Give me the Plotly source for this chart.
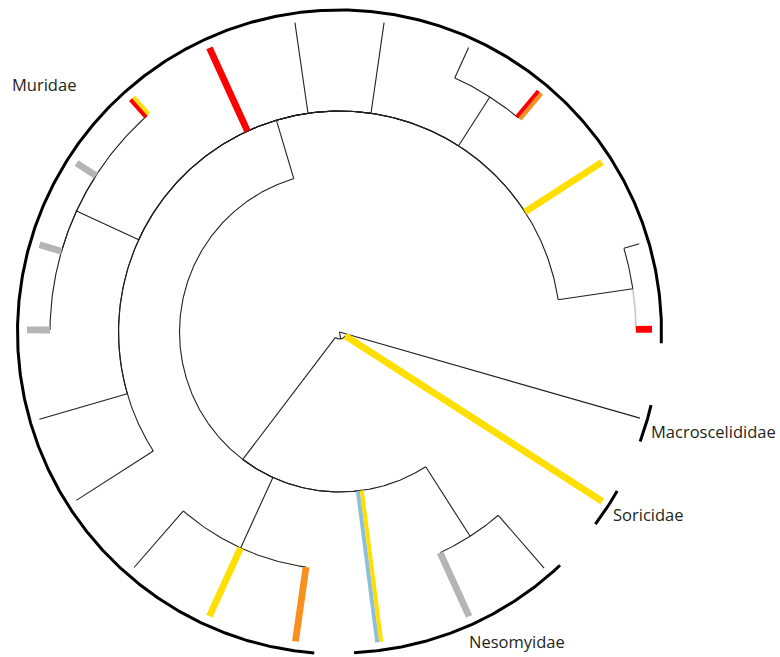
import numpy as np
import plotly.graph_objects as go

# ---------------- tree data ----------------
# internal nodes: depth = distance from the root, angle = where the stem joins (degrees)
node_name   = ["root", "afro", "rodentia", "muridae_a", "muridae_b",
               "muridae_c", "muridae_d", "muridae_e", "nesomyidae"]
node_parent = [None, "root", "afro", "rodentia", "muridae_a",
               "muridae_a", "muridae_a", "rodentia", "rodentia"]
node_depth  = [0.0, 7.0, 160.0, 221.0, 289.5, 279.0, 296.5, 237.5, 242.5]
node_angle  = [-16.0, 280.0, 232.8, 106.6, 155.3, 57.4, 8.4, 245.4, 302.6]

# terminal branches: parent node, angle, bar colours (ordered by increasing angle;
# an empty list is a plain thin branch), colour of the arc stretch leading to the tip
tip_parent = ["root", "afro",
              "muridae_a", "muridae_a", "muridae_a", "muridae_a", "muridae_a", "muridae_a",
              "muridae_b", "muridae_b", "muridae_b", "muridae_b",
              "muridae_c", "muridae_c",
              "muridae_d", "muridae_d",
              "muridae_e", "muridae_e", "muridae_e",
              "nesomyidae", "nesomyidae",
              "rodentia"]
tip_angle = [-16.0, 327.2,
             212.6, 196.2, 114.6, 98.2, 81.8, 32.9,
             179.6, 163.8, 147.3, 131.6,
             65.6, 50.1,
             16.4, 0.5,
             228.9, 245.4, 261.9,
             294.5, 310.9,
             277.3]
tip_colors = [[], ["yellow"],
              [], [], ["red"], [], [], ["yellow"],
              ["grey"], ["grey"], ["grey"], ["yellow", "red"],
              [], ["orange", "red"],
              [], ["red"],
              [], ["yellow"], ["orange"],
              ["grey"], [],
              ["blue", "yellow"]]
tip_arc_color = ["black"] * 15 + ["lightgrey"] + ["black"] * 6
tip_depth = 312.5

# clade brackets and their labels
clade_name   = ["Muridae", "Nesomyidae", "Macroscelididae", "Soricidae"]
clade_start  = [-2.0, 272.6, -20.0, -36.9]
clade_end    = [265.5, 313.4, -13.2, -29.8]
clade_radius = [322.0, 321.0, 320.0, 320.0]
label_radius = [411.6, 335.0, 324.95, 327.2]
label_angle  = [143.12, -67.58, -17.74, -34.0]

palette = {
    "black": "#231f20",
    "red": "#ff0000",
    "yellow": "#ffdf00",
    "orange": "#f7901e",
    "grey": "#b5b5b5",
    "lightgrey": "#c8c8c8",
    "blue": "#8cbfdc",
}

# ---------------- geometry helpers ----------------
def polar(r, deg):
    t = np.deg2rad(deg)
    return r * np.cos(t), r * np.sin(t)


def arc(r, a0, a1, step=0.4):
    n = max(2, int(abs(a1 - a0) / step) + 1)
    return polar(r, np.linspace(a0, a1, n))


def bar_polygon(r0, r1, deg, offset, width):
    t = np.deg2rad(deg)
    u = np.array([np.cos(t), np.sin(t)])
    p = np.array([-np.sin(t), np.cos(t)])
    lo, hi = offset - width / 2, offset + width / 2
    pts = [r0 * u + lo * p, r1 * u + lo * p, r1 * u + hi * p, r0 * u + hi * p, r0 * u + lo * p]
    return [q[0] for q in pts], [q[1] for q in pts]


fig = go.Figure()
thin = 1.1
depth_of = dict(zip(node_name, node_depth))
angle_of = dict(zip(node_name, node_angle))

# collect thin line segments (x, y with None separators) per colour
segments = {}


def add_seg(color, xs, ys):
    bx, by = segments.setdefault(color, ([], []))
    bx.extend(list(xs) + [None])
    by.extend(list(ys) + [None])


# stems of internal nodes
for name, parent in zip(node_name, node_parent):
    if parent is None:
        continue
    r0, r1, a = depth_of[parent], depth_of[name], angle_of[name]
    x0, y0 = polar(r0, a)
    x1, y1 = polar(r1, a)
    add_seg("black", [x0, x1], [y0, y1])

# arcs: from each node's stem angle round to every child's angle
for name, parent in zip(node_name, node_parent):
    if parent is None or depth_of[parent] <= 0:
        continue
    xs, ys = arc(depth_of[parent], angle_of[parent], angle_of[name])
    add_seg("black", xs, ys)

for parent, ang, acol in zip(tip_parent, tip_angle, tip_arc_color):
    if depth_of[parent] <= 0:
        continue
    xs, ys = arc(depth_of[parent], angle_of[parent], ang)
    add_seg(acol, xs, ys)

# terminal branches: plain ones as thin lines
for parent, ang, cols in zip(tip_parent, tip_angle, tip_colors):
    if cols:
        continue
    x0, y0 = polar(depth_of[parent], ang)
    x1, y1 = polar(tip_depth, ang)
    add_seg("black", [x0, x1], [y0, y1])

for color in ["lightgrey", "black"]:
    if color in segments:
        xs, ys = segments[color]
        fig.add_trace(go.Scatter(x=xs, y=ys, mode="lines",
                                 line=dict(color=palette[color], width=thin if color == "black" else 1.6),
                                 hoverinfo="skip", showlegend=False))

# coloured terminal branches as thick bars (split side by side when two colours)
for parent, ang, cols in zip(tip_parent, tip_angle, tip_colors):
    if not cols:
        continue
    r0 = depth_of[parent]
    if len(cols) == 1:
        widths, offsets = [6.8], [0.0]
    else:
        widths, offsets = [4.0, 4.0], [-2.0, 2.0]
    for col, w, o in zip(cols, widths, offsets):
        xs, ys = bar_polygon(r0, tip_depth, ang, o, w)
        fig.add_trace(go.Scatter(x=xs, y=ys, mode="lines", fill="toself",
                                 fillcolor=palette[col], line=dict(width=0, color=palette[col]),
                                 hoverinfo="skip", showlegend=False))

# clade brackets and names
for name, a0, a1, rc, lr, la in zip(clade_name, clade_start, clade_end, clade_radius,
                                     label_radius, label_angle):
    xs, ys = arc(rc, a0, a1)
    fig.add_trace(go.Scatter(x=xs, y=ys, mode="lines",
                             line=dict(color="#000000", width=3),
                             hoverinfo="skip", showlegend=False))
    lx, ly = polar(lr, la)
    fig.add_annotation(x=lx, y=ly, text=name, showarrow=False,
                       xanchor="left", yanchor="middle",
                       font=dict(family="Open Sans", size=16.5, color="#231f20"))

fig.update_xaxes(range=[-339.5, 440.5], visible=False)
fig.update_yaxes(range=[-325, 332], visible=False)
fig.update_layout(width=780, height=657, margin=dict(l=0, r=0, t=0, b=0),
                  plot_bgcolor="white", paper_bgcolor="white", showlegend=False)

fig.write_html("out.html")
